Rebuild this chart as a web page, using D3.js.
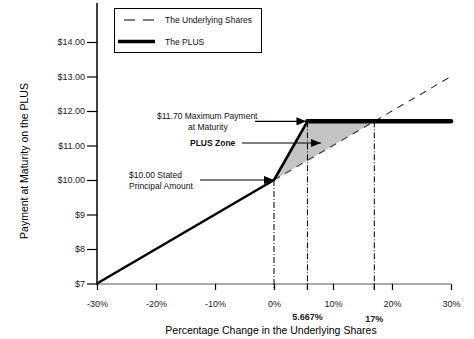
<!DOCTYPE html>
<html><head><meta charset="utf-8">
<script src="https://cdn.jsdelivr.net/npm/d3@7"></script>
<style>body{margin:0;background:#fff}svg{display:block;font-family:"Liberation Sans",Arial,sans-serif}</style>
</head><body>
<script>
const xTicks = [-30, -20, -10, 0, 10, 20, 30];
const xTickLabels = ["-30%", "-20%", "-10%", "0%", "10%", "20%", "30%"];
const yTicks = [7, 8, 9, 10, 11, 12, 13, 14];
const yTickLabels = ["$7", "$8", "$9", "$10.00", "$11.00", "$12.00", "$13.00", "$14.00"];
const plusX = [-30, 0, 5.667, 30];
const plusY = [7, 10, 11.70, 11.70];
const underX = [0, 30];
const underY = [10, 13];
const zoneX = [0, 5.667, 17];
const zoneY = [10, 11.70, 11.70];
const markerX = [0, 5.667, 17];
const markerLabels = ["5.667%", "17%"];
const legendLabels = ["The Underlying Shares", "The PLUS"];

const W = 474, H = 339;
const svg = d3.select("body").append("svg").attr("width", W).attr("height", H);
const x = d3.scaleLinear().domain([-30, 30]).range([97, 451]);
const y = d3.scaleLinear().domain([7, 14]).range([283.5, 42]);

// shaded zone
svg.append("path")
  .attr("d", d3.line().x(d => x(d[0])).y(d => y(d[1]))(zoneX.map((v, i) => [v, zoneY[i]])) + "Z")
  .attr("fill", "#c4c4c4");

// x axis line (gray)
svg.append("line").attr("x1", x(-30)).attr("x2", x(30)).attr("y1", y(7) + 0.5).attr("y2", y(7) + 0.5)
  .attr("stroke", "#aaa").attr("stroke-width", 2.2);

// marker vertical dash-dot lines
const py = d3.scaleLinear().domain(plusX).range(plusY);
markerX.forEach(m => {
  svg.append("line").attr("x1", x(m)).attr("x2", x(m)).attr("y1", y(py(m))).attr("y2", y(7) + 6)
    .attr("stroke", "#000").attr("stroke-width", 1).attr("stroke-dasharray", "6,2,1,2");
});

// x ticks
const xAxis = d3.axisBottom(x).tickValues(xTicks).tickSize(6)
  .tickFormat((d, i) => xTickLabels[i]);
const gx = svg.append("g").attr("transform", `translate(0,${y(7) + 0.5})`).call(xAxis);
gx.select(".domain").remove();
gx.selectAll(".tick line").attr("stroke", "#000").attr("stroke-width", 1.2);
gx.selectAll(".tick text").attr("font-size", 9).attr("fill", "#222").attr("dy", 0).attr("y", 22.5)
  .attr("font-family", "Liberation Sans, Arial, sans-serif");

// marker ticks and labels
[5.667, 17].forEach((m, i) => {
  svg.append("line").attr("x1", x(m)).attr("x2", x(m)).attr("y1", y(7)).attr("y2", y(7) + 6.5)
    .attr("stroke", "#000").attr("stroke-width", 1.2);
  svg.append("text").attr("x", x(m)).attr("y", i === 0 ? 319.5 : 321.5).attr("text-anchor", "middle")
    .attr("font-size", 9).attr("font-weight", "bold").attr("fill", "#222").text(markerLabels[i]);
});

// y axis
svg.append("line").attr("x1", x(-30)).attr("x2", x(-30)).attr("y1", 3).attr("y2", y(7) + 1.5)
  .attr("stroke", "#000").attr("stroke-width", 1.5);
const yAxis = d3.axisLeft(y).tickValues(yTicks).tickSize(10).tickPadding(2)
  .tickFormat((d, i) => yTickLabels[i]);
const gy = svg.append("g").attr("transform", `translate(${x(-30)},0)`).call(yAxis);
gy.select(".domain").remove();
gy.selectAll(".tick line").attr("stroke", "#000").attr("stroke-width", 1.2);
gy.selectAll(".tick text").attr("font-size", 9).attr("fill", "#222")
  .attr("font-family", "Liberation Sans, Arial, sans-serif");

// underlying dashed line
svg.append("path")
  .attr("d", d3.line().x(d => x(d[0])).y(d => y(d[1]))(underX.map((v, i) => [v, underY[i]])))
  .attr("fill", "none").attr("stroke", "#333").attr("stroke-width", 1.1).attr("stroke-dasharray", "7,6");

// PLUS line
svg.append("path")
  .attr("d", d3.line().x(d => x(d[0])).y(d => y(d[1]))(plusX.slice(0, 3).map((v, i) => [v, plusY[i]])))
  .attr("fill", "none").attr("stroke", "#000").attr("stroke-width", 2.6).attr("stroke-linejoin", "round");
svg.append("path")
  .attr("d", d3.line().x(d => x(d[0])).y(d => y(d[1]))(plusX.slice(2).map((v, i) => [v, plusY[i + 2]])))
  .attr("fill", "none").attr("stroke", "#000").attr("stroke-width", 4.5).attr("stroke-linecap", "round");

// arrows
const defs = svg.append("defs");
defs.append("marker").attr("id", "ah").attr("viewBox", "0 0 10 8").attr("refX", 10).attr("refY", 4)
  .attr("markerWidth", 10).attr("markerHeight", 8).attr("markerUnits", "userSpaceOnUse").attr("orient", "auto")
  .append("path").attr("d", "M0,0L10,4L0,8Z").attr("fill", "#000");
function arrow(x1, y1, x2, y2) {
  svg.append("line").attr("x1", x1).attr("y1", y1).attr("x2", x2).attr("y2", y2)
    .attr("stroke", "#000").attr("stroke-width", 1.1).attr("marker-end", "url(#ah)");
}
arrow(255, y(11.70), x(5.667) - 1, y(11.70));
arrow(242, 143, 321, 143);
arrow(200, y(10), x(0), y(10));

function txt(xx, yy, s, bold) {
  svg.append("text").attr("x", xx).attr("y", yy).attr("font-size", 8.5).attr("fill", "#111")
    .attr("font-weight", bold ? "bold" : "normal").text(s);
}
txt(157, 119, "$11.70 Maximum Payment");
txt(188, 129.5, "at Maturity");
txt(190, 146, "PLUS  Zone", true);
txt(129, 178, "$10.00 Stated");
txt(129, 188.5, "Principal Amount");

// legend
svg.append("rect").attr("x", 114.5).attr("y", 8.5).attr("width", 147).attr("height", 44)
  .attr("fill", "#fff").attr("stroke", "#000").attr("stroke-width", 1);
svg.append("line").attr("x1", 124).attr("x2", 154).attr("y1", 20).attr("y2", 20)
  .attr("stroke", "#000").attr("stroke-width", 1).attr("stroke-dasharray", "11,8");
svg.append("line").attr("x1", 118).attr("x2", 155).attr("y1", 41.5).attr("y2", 41.5)
  .attr("stroke", "#000").attr("stroke-width", 3.5);
legendLabels.forEach((l, i) => {
  svg.append("text").attr("x", 165).attr("y", i === 0 ? 23 : 44.5).attr("font-size", 8.5)
    .attr("fill", "#111").text(l);
});

// axis titles
svg.append("text").attr("transform", "translate(28,161) rotate(-90)").attr("text-anchor", "middle")
  .attr("font-size", 10.5).attr("fill", "#000").text("Payment at Maturity on the PLUS");
svg.append("text").attr("x", 271).attr("y", 334).attr("text-anchor", "middle")
  .attr("font-size", 10.5).attr("fill", "#000").text("Percentage Change in the Underlying Shares");
</script>
</body></html>
